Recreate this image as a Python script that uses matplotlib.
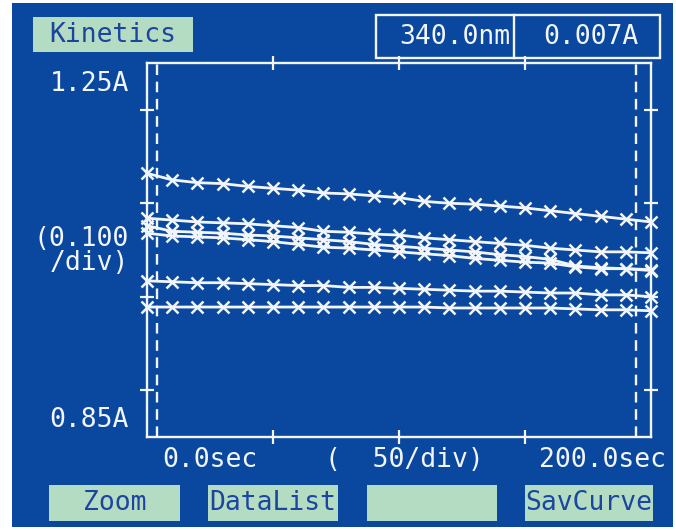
import matplotlib
matplotlib.use("Agg")
import matplotlib.pyplot as plt
from matplotlib.patches import Rectangle
from matplotlib.lines import Line2D

# ---------------- data ----------------
time_s = list(range(0, 201, 10))

curve_1 = [1.132, 1.125, 1.122, 1.121, 1.118, 1.116, 1.114, 1.111, 1.110, 1.108, 1.106,
           1.102, 1.100, 1.099, 1.097, 1.095, 1.092, 1.089, 1.086, 1.083, 1.080]
curve_2 = [1.084, 1.082, 1.080, 1.079, 1.078, 1.076, 1.074, 1.070, 1.069, 1.067, 1.066,
           1.063, 1.061, 1.059, 1.057, 1.055, 1.052, 1.050, 1.048, 1.048, 1.047]
curve_3 = [1.076, 1.070, 1.069, 1.068, 1.066, 1.065, 1.063, 1.061, 1.059, 1.056, 1.054,
           1.052, 1.050, 1.048, 1.045, 1.043, 1.040, 1.033, 1.031, 1.030, 1.029]
curve_4 = [1.068, 1.065, 1.064, 1.063, 1.061, 1.059, 1.056, 1.053, 1.052, 1.050, 1.048,
           1.046, 1.044, 1.041, 1.039, 1.037, 1.036, 1.032, 1.030, 1.030, 1.028]
curve_5 = [1.017, 1.016, 1.015, 1.015, 1.014, 1.013, 1.012, 1.012, 1.010, 1.010, 1.009,
           1.008, 1.007, 1.006, 1.006, 1.005, 1.004, 1.004, 1.002, 1.002, 1.000]
curve_6 = [0.989, 0.989, 0.989, 0.989, 0.989, 0.989, 0.989, 0.989, 0.989, 0.989, 0.989,
           0.989, 0.988, 0.988, 0.988, 0.988, 0.988, 0.987, 0.986, 0.986, 0.985]
curves = [curve_1, curve_2, curve_3, curve_4, curve_5, curve_6]

y_range = (0.85, 1.25)
x_range = (0, 200)
y_ticks = [0.9, 1.0, 1.1, 1.2]
x_ticks = [50, 100, 150]
cursor_times = [4, 194]

title_text = "Kinetics"
wavelength_text = "340.0nm"
absorbance_text = "0.007A"
y_top_label = "1.25A"
y_mid_label = "(0.100\n/div)"
y_bottom_label = "0.85A"
x_left_label = "0.0sec"
x_mid_label = "(  50/div)"
x_right_label = "200.0sec"
button_labels = ["Zoom", "DataList", "", "SavCurve"]

# ---------------- style ----------------
W, H = 676, 530
BLUE = '#0a479e'
GREEN = '#b4dcc2'
TEXT_BLUE = '#1c45a0'
WHITE = '#f2f5fa'
FONT = 'DejaVu Sans Mono'
FS = 19


def fx(px):
    return px / W


def fy(py):
    return 1 - py / H


fig = plt.figure(figsize=(W / 100, H / 100), dpi=100)
fig.patch.set_facecolor('white')

# screen background
fig.patches.append(Rectangle((fx(12), fy(527)), (673 - 12) / W, (527 - 3) / H,
                             transform=fig.transFigure, facecolor=BLUE,
                             edgecolor='none', zorder=-5))

# plot frame
ax = fig.add_axes([fx(147), fy(437), (651 - 147) / W, (437 - 63) / H])
ax.set_zorder(2)
ax.set_facecolor('none')
ax.set_xlim(*x_range)
ax.set_ylim(*y_range)
for sp in ax.spines.values():
    sp.set_color(WHITE)
    sp.set_linewidth(1.7)
ax.set_xticks(x_ticks)
ax.set_yticks(y_ticks)
ax.tick_params(axis='both', which='both', direction='inout', length=10, width=1.6,
               color=WHITE, top=True, right=True, bottom=True, left=True,
               labelbottom=False, labelleft=False)

for t in cursor_times:
    ax.axvline(t, color=WHITE, lw=1.7, ls=(0, (4.5, 2.8)), zorder=2)

for c in curves:
    ax.plot(time_s, c, color=WHITE, lw=2.0, marker='x', markersize=8,
            markeredgewidth=1.8, clip_on=False, zorder=3)

# top boxes
fig.patches.append(Rectangle((fx(33), fy(52)), (193 - 33) / W, (52 - 17) / H,
                             transform=fig.transFigure, facecolor=GREEN,
                             edgecolor='none', zorder=1))
fig.text(fx(113), fy(35.5), title_text, color=TEXT_BLUE, fontfamily=FONT, fontsize=FS,
         ha='center', va='center')

fig.patches.append(Rectangle((fx(376), fy(58)), (660 - 376) / W, (58 - 15) / H,
                             transform=fig.transFigure, facecolor='none',
                             edgecolor=WHITE, lw=1.7, zorder=1))
fig.lines.append(Line2D([fx(514), fx(514)], [fy(15), fy(58)], transform=fig.transFigure,
                        color=WHITE, lw=1.7))
fig.text(fx(510), fy(37), wavelength_text, color=WHITE, fontfamily=FONT, fontsize=FS,
         ha='right', va='center')
fig.text(fx(591), fy(37), absorbance_text, color=WHITE, fontfamily=FONT, fontsize=FS,
         ha='center', va='center')

# y labels
fig.text(fx(129), fy(84), y_top_label, color=WHITE, fontfamily=FONT, fontsize=FS,
         ha='right', va='center')
fig.text(fx(129), fy(251), y_mid_label, color=WHITE, fontfamily=FONT, fontsize=FS,
         ha='right', va='center', linespacing=0.95)
fig.text(fx(129), fy(420), y_bottom_label, color=WHITE, fontfamily=FONT, fontsize=FS,
         ha='right', va='center')

# x labels
fig.text(fx(162), fy(460), x_left_label, color=WHITE, fontfamily=FONT, fontsize=FS,
         ha='left', va='center')
fig.text(fx(325), fy(460), x_mid_label, color=WHITE, fontfamily=FONT, fontsize=FS,
         ha='left', va='center')
fig.text(fx(666), fy(460), x_right_label, color=WHITE, fontfamily=FONT, fontsize=FS,
         ha='right', va='center')

# buttons
button_boxes = [(49, 180), (208, 338), (367, 497), (525, 653)]
for (x0, x1), lab in zip(button_boxes, button_labels):
    fig.patches.append(Rectangle((fx(x0), fy(521)), (x1 - x0) / W, (521 - 485) / H,
                                 transform=fig.transFigure, facecolor=GREEN,
                                 edgecolor='none', zorder=1))
    if lab:
        fig.text(fx((x0 + x1) / 2), fy(503), lab, color=TEXT_BLUE, fontfamily=FONT,
                 fontsize=FS, ha='center', va='center')

fig.savefig('out.png', dpi=100, facecolor=fig.get_facecolor())
